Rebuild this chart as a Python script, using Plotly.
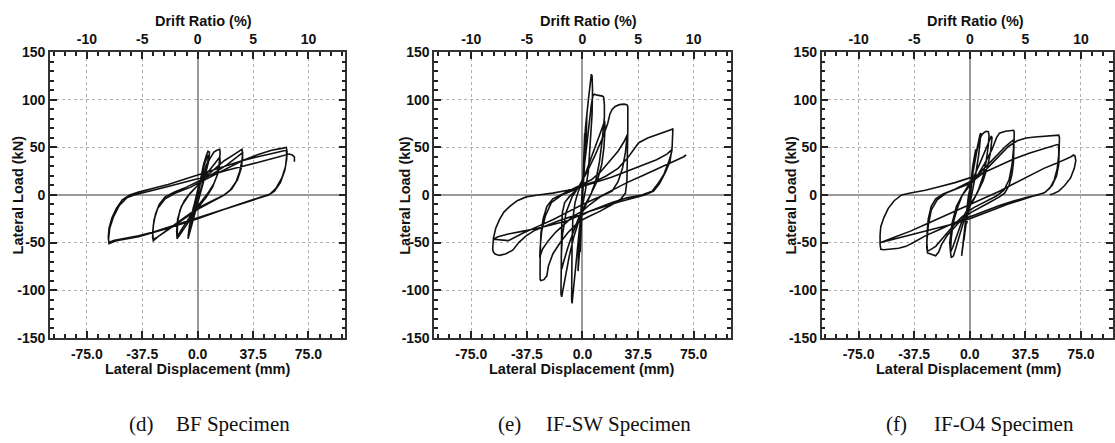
import numpy as np
import plotly.graph_objects as go

# ---------------- data ----------------
MM_PER_PCT_DRIFT = 7.5   # 1 % drift = 7.5 mm lateral displacement

# (d) BF specimen : lateral displacement (mm), lateral load (kN)
bf_disp = [0, 1.5, 3, 2, 0, -1.5, -3, -2, 0,
           2, 4, 6, 7, 8, 7.5, 5, 2, 0, -2, -4, -6, -6.5, -6, -4, -2, 0, 3, 5, 7, 7.5, 5, 2, 0, -3, -6, -6.5, -5.5, -3, 0, 3, 6,
           9, 11, 13, 15, 15.2, 14.5, 13, 10, 6, 2, -2, -6, -10, -13, -14, -14, -13.5, -12, -9, -5, 0, 5, 10, 14, 15, 15.2, 14, 11, 7, 2, -4, -10, -14, -14.2, -13.5, -11, -6, 0, 6,
           12, 18, 24, 28, 30, 30.5, 30, 28.5, 26, 22, 18, 10, 0, -10, -20, -27, -30, -30.5, -30, -28.5, -26, -22, -16, -8, 0, 10, 20, 27, 30, 30.5, 29.5, 27, 23, 18, 8, 0, -10, -20, -28, -30, -30.5, -29.5, -27, -22, -15, -5, 0,
           10, 20, 30, 40, 50, 57, 60, 60.5, 60.3, 59, 56, 52, 48, 40, 30, 20, 10, 0, -10, -20, -30, -40, -50, -57, -60, -60.5, -60, -58, -55, -51, -46, -40, -30, -20, -10, 0, 10, 20, 30, 40, 50, 57, 60,
           60.3, 59.5, 57, 53, 49, 45, 35, 20, 0, -20, -40, -55, -60, -60.3, -59.5, -57, -53, -48, -43, -35, -20, 0, 20, 40, 55, 62, 64, 65.5, 65.5]
bf_load = [0, 12, 22, 12, -2, -14, -25, -14, 2,
           18, 32, 42, 46, 45, 36, 20, 2, -10, -22, -34, -44, -46, -38, -22, -8, 5, 22, 34, 42, 40, 22, 5, -6, -25, -42, -44, -32, -14, 3, 18, 32,
           40, 45, 47, 48, 44, 32, 20, 8, -2, -10, -18, -28, -38, -44, -46, -40, -28, -16, -6, 2, 10, 20, 30, 38, 40, 35, 24, 12, 2, -8, -20, -34, -44, -38, -25, -12, 0, 10, 20,
           28, 36, 42, 46, 48, 44, 36, 25, 14, 5, 0, -6, -14, -25, -36, -44, -48, -44, -32, -20, -10, -2, 3, 8, 14, 22, 32, 40, 44, 40, 28, 16, 6, 0, -8, -15, -26, -37, -45, -47, -40, -26, -14, -4, 2, 8, 12,
           20, 28, 36, 42, 47, 49, 50, 46, 38, 26, 13, 4, 0, -4, -9, -14, -19, -24, -29, -34, -39, -43, -46, -48, -50, -45, -35, -24, -14, -5, 0, 3, 7, 11, 16, 21, 26, 31, 36, 40, 44, 46, 47,
           42, 30, 18, 7, 1, -1, -6, -14, -25, -35, -44, -48, -51, -46, -35, -23, -11, -3, 0, 3, 9, 17, 26, 34, 40, 43, 42, 40, 35]

# (e) IF-SW specimen
sw_disp = [0, 0.5, 1, 1.5, 1, 0, -0.5, -1, -1.5, -1, 0, 1, 2, 3, 2.5, 1, 0, -1, -2, -3, -2.5, -1, 0, 1.5, 3,
           4, 5, 5.5, 6, 6.5, 6.8, 6.5, 5.5, 4, 2, 0, -2, -4, -5.5, -6.5, -7, -7.3, -7.2, -7, -6.5, -5, -3, 0, 2, 4, 6, 7, 8,
           10, 12, 13.5, 14.3, 14.8, 14.8, 13.5, 11.5, 9, 6, 3, 0, -3, -6, -9, -11.5, -13, -14, -14.5, -14.4, -14.2, -14, -13.5, -12, -9, -5, 0, 4, 8, 12, 14.5, 15,
           15.2, 14.5, 13, 10, 6, 2, -2, -6, -10, -13, -14, -14.3, -13.5, -11, -7, -2, 3, 8, 13, 17,
           18.5, 20, 22, 25, 28, 30, 30.6, 30.6, 30.5, 30, 29, 26, 20, 12, 5, 0, -5, -10, -15, -20, -23, -24, -26, -28, -28.5, -28.6, -28.5, -28, -26.5, -24, -20, -12, -5, 0, 6, 12, 18, 24, 28, 30,
           30.5, 30, 29, 27, 24, 20, 12, 5, 0, -6, -12, -18, -23, -27, -28.5, -28.8, -28.5, -27.5, -25, -21, -14, -6, 0,
           8, 16, 24, 30, 34, 38, 44, 50, 55, 59, 60.5, 61, 61, 60.5, 59, 56, 52, 48, 42, 34, 25, 15, 5, 0, -8, -16, -24, -32, -38, -43, -47, -52, -56, -59, -60, -60.5, -60.5, -60, -58.5, -56, -53, -49, -44, -38, -30, -20, -10, 0, 10, 20, 30, 40, 50, 57, 60,
           60.5, 60, 58, 55, 51, 47, 40, 30, 20, 10, 0, -10, -20, -30, -40, -50, -57, -60,
           -50, -40, -30, -20, -10, 0, 10, 20, 30, 40, 50, 58, 64, 68, 70]
sw_load = [0, 25, 50, 65, 40, 5, -20, -45, -60, -35, 0, 40, 70, 85, 60, 25, 0, -30, -60, -80, -55, -15, 10, 50, 85,
           100, 115, 122, 127, 125, 110, 85, 55, 25, 5, -12, -35, -65, -90, -108, -114, -110, -80, -50, -25, -8, 3, 15, 40, 70, 95, 104, 106,
           105, 104.5, 104, 103, 95, 82, 60, 35, 15, 2, -8, -18, -30, -45, -65, -85, -100, -107, -104, -80, -55, -32, -18, -8, -2, 4, 14, 30, 48, 65, 76, 78,
           70, 50, 32, 15, 2, -10, -22, -38, -56, -72, -78, -65, -42, -18, -2, 10, 24, 40, 58, 75,
           85, 90, 93, 95, 95.5, 95, 93, 70, 40, 15, 2, -4, -10, -17, -22, -26, -32, -40, -50, -62, -75, -85, -89, -90, -89, -85, -60, -40, -25, -12, -4, 2, 7, 11, 16, 24, 35, 46, 56, 62, 64,
           60, 45, 28, 14, 4, -2, -10, -17, -22, -30, -39, -48, -57, -64, -66, -55, -38, -22, -8, 0, 5, 10, 14,
           20, 28, 38, 47, 55, 60, 63, 66, 68, 69, 70, 67, 50, 35, 24, 12, 4, 0, -3, -7, -12, -17, -21, -23, -27, -32, -37, -43, -50, -58, -62, -63.5, -62, -60, -58, -55, -45, -35, -26, -18, -12, -6, -2, 0, 2, 5, 9, 14, 19, 25, 31, 37, 43, 46.5, 48,
           44, 34, 22, 12, 4, 0, -3, -8, -14, -20, -27, -31, -35, -38, -41, -44, -46.5, -48,
           -40, -33, -26, -18, -10, -3, 5, 13, 20, 27, 33, 37, 40, 42, 42.5]

# (f) IF-O4 specimen
o4_disp = [0, 1, 2, 1.5, 0, -1, -2, -1.5, 0, 2, 4, 3, 1, -1, -3, -4, -3, -1, 1,
           3, 5, 6, 7, 7.5, 7.2, 6, 4, 2, 0, -2, -3.5, -4.5, -5.2, -5.5, -5, -4, -2.5, -1, 1, 3, 5, 7,
           8.5, 10, 11, 12.5, 13, 12.5, 11, 9, 6, 3, 0, -3, -6, -9, -11, -12.5, -13, -12.5, -11, -8, -5, -1, 3, 7, 11, 13, 14.5,
           15, 14, 12, 9, 5, 1, -4, -8, -11.5, -13, -13.5, -12, -9, -5, 0, 5, 10,
           15, 18, 20, 24, 28, 29.5, 30, 30, 29.5, 28.5, 26.5, 23.5, 20, 12, 5, 0, -5, -10, -15, -19, -21, -23, -25, -27, -28.5, -29, -28.8, -28, -26, -23, -18, -10, -3, 0, 6, 12, 18, 24, 28, 29.5,
           29.5, 28.5, 26.5, 23, 18, 10, 3, 0, -6, -12, -18, -23, -27, -28.5, -29, -28, -26, -22, -16, -8, 0,
           8, 14, 20, 26, 32, 38, 44, 50, 56, 60, 60.5, 60.5, 60, 58.5, 55.5, 51, 46, 40, 30, 20, 10, 0, -10, -20, -30, -38, -43, -48, -54, -58, -60, -60.5, -60.5, -60, -58, -55, -51, -46, -40, -30, -20, -10, 0, 10, 20, 30, 40, 48, 54, 59,
           60, 60, 59, 57, 54, 50, 45, 35, 25, 15, 5, 0, -10, -20, -30, -40, -50, -58, -60,
           -50, -40, -30, -20, -10, 0, 10, 20, 30, 40, 50, 58, 64, 68, 70, 71, 71.5, 70.5, 68, 64, 60, 56, 54]
o4_load = [0, 15, 30, 18, 0, -15, -30, -18, 2, 30, 48, 32, 8, -12, -35, -48, -30, -5, 15,
           35, 50, 58, 64, 65, 58, 42, 22, 6, -8, -22, -38, -52, -62, -64, -55, -38, -18, -2, 14, 32, 48, 60,
           64, 66, 67, 66.5, 63, 52, 35, 20, 6, -4, -12, -22, -38, -55, -64, -66, -60, -45, -28, -12, 0, 10, 20, 34, 50, 58, 62,
           60, 45, 30, 15, 2, -8, -22, -40, -55, -60, -50, -30, -12, 0, 10, 20, 33,
           48, 60, 65, 67, 68, 68, 66, 50, 35, 22, 10, 2, -2, -9, -15, -19, -25, -33, -42, -52, -60, -64, -63, -62, -61, -55, -40, -25, -12, -4, 1, 6, 11, 14, 22, 32, 42, 51, 56, 58,
           48, 32, 16, 5, -1, -7, -13, -16, -24, -34, -45, -54, -58, -59, -50, -32, -16, -5, 2, 7, 12,
           22, 32, 42, 51, 57, 60, 61, 62, 62.5, 63, 60, 45, 32, 20, 10, 3, 0, -2, -6, -11, -17, -23, -29, -36, -43, -50, -54, -56, -57, -57.5, -57, -52, -42, -33, -24, -14, -6, 0, 2, 5, 9, 13, 18, 24, 31, 38, 44, 48, 51, 53,
           52, 42, 28, 16, 7, 2, 0, -5, -10, -16, -22, -25, -30, -34, -38, -42, -46, -49, -50,
           -44, -38, -31, -24, -17, -10, -3, 4, 12, 20, 28, 33, 37, 40, 42, 41, 36, 28, 18, 10, 4, 1, 0.5]

panel_captions = [("(d)", "BF Specimen"), ("(e)", "IF-SW Specimen"), ("(f)", "IF-O4 Specimen")]
disp_ticks = [-75.0, -37.5, 0.0, 37.5, 75.0]
load_ticks = [-150, -100, -50, 0, 50, 100, 150]
drift_ticks = [-10, -5, 0, 5, 10]
series = [(bf_disp, bf_load), (sw_disp, sw_load), (o4_disp, o4_load)]

# ---------------- layout geometry (pixels) ----------------
W, H = 1115, 443
panel_px = [(50, 346), (435, 732), (823, 1115)]
top_px, bot_px = 46, 342
x_ranges = [[-100, 100], [-100, 100], [-100, 96.6]]
caption_px = [(127, 174), (497, 545), (886, 934)]
ytitle_px = [18.5, 405.5, 792]

TICKFONT = dict(family="Liberation Sans, Arial, sans-serif", size=14, color="#111", weight="bold")
TITLEFONT = dict(family="Liberation Sans, Arial, sans-serif", size=14.5, color="#111", weight="bold")
CAPFONT = dict(family="Liberation Serif, Times New Roman, serif", size=21, color="#111")
GRID = dict(showgrid=True, gridcolor="#b0b0b0", griddash="dot", gridwidth=1)
TICKSTYLE = dict(ticks="inside", tickwidth=1.5, tickcolor="#222")

fig = go.Figure()
layout = {}
annotations = []
ydom = [1 - bot_px / H, 1 - top_px / H]

for i, ((dx, ld), (l, r)) in enumerate(zip(series, panel_px)):
    xb = f"x{2*i+1}" if i else "x"
    xt = f"x{2*i+2}"
    yy = f"y{i+1}" if i else "y"
    xb_key = "xaxis" + (str(2*i+1) if i else "")
    xt_key = "xaxis" + str(2*i+2)
    y_key = "yaxis" + (str(i+1) if i else "")
    dom = [l / W, min(r / W, 1.0)]

    fig.add_trace(go.Scatter(x=dx, y=ld, mode="lines", xaxis=xb, yaxis=yy,
                             line=dict(color="#111", width=1.6), showlegend=False,
                             hoverinfo="skip"))
    # empty trace so that the top drift-ratio axis is drawn
    fig.add_trace(go.Scatter(x=drift_ticks, y=[None] * len(drift_ticks), mode="lines",
                             xaxis=xt, yaxis=yy, showlegend=False, hoverinfo="skip"))

    xr = x_ranges[i]
    layout[xb_key] = dict(
        domain=dom, anchor=yy, range=xr,
        tickmode="array", tickvals=disp_ticks, ticktext=[f"{v:.1f}" for v in disp_ticks],
        ticklen=7, **TICKSTYLE,
        minor=dict(tickmode="linear", tick0=0, dtick=MM_PER_PCT_DRIFT, ticklen=4,
                   showgrid=False, **TICKSTYLE),
        zeroline=True, zerolinecolor="#9a9a9a", zerolinewidth=1.5,
        showline=True, linecolor="#333", linewidth=1.5, mirror="ticks",
        tickfont=TICKFONT, ticklabelstandoff=3, **GRID,
    )
    layout[xt_key] = dict(
        overlaying=xb, side="top", anchor=yy,
        range=[xr[0] / MM_PER_PCT_DRIFT, xr[1] / MM_PER_PCT_DRIFT],
        tickmode="array", tickvals=drift_ticks, ticktext=[str(v) for v in drift_ticks],
        ticks="", showgrid=False, zeroline=False, showline=False,
        tickfont=TICKFONT, ticklabelstandoff=5,
    )
    layout[y_key] = dict(
        domain=ydom, anchor=xb, range=[-150, 150],
        tickmode="array", tickvals=load_ticks, ticktext=[str(v) for v in load_ticks],
        ticklen=7, **TICKSTYLE,
        minor=dict(tickmode="linear", tick0=0, dtick=10, ticklen=4,
                   showgrid=False, **TICKSTYLE),
        zeroline=True, zerolinecolor="#9a9a9a", zerolinewidth=1.5,
        showline=True, linecolor="#333", linewidth=1.5, mirror="ticks",
        tickfont=TICKFONT, ticklabelstandoff=0, **GRID,
    )

    cx = (l + 148) if i == 2 else (l + r) / 2
    annotations += [
        dict(text="Drift Ratio (%)", x=(cx + 6) / W, y=1 - 13 / H, xref="paper", yref="paper",
             showarrow=False, font=TITLEFONT, xanchor="center", yanchor="middle"),
        dict(text="Lateral Displacement (mm)", x=cx / W, y=1 - 375 / H, xref="paper", yref="paper",
             showarrow=False, font=TITLEFONT, xanchor="center", yanchor="middle"),
        dict(text="Lateral Load (kN)", x=ytitle_px[i] / W, y=1 - 194 / H, xref="paper", yref="paper",
             showarrow=False, font=TITLEFONT, textangle=-90, xanchor="center", yanchor="middle"),
        dict(text=panel_captions[i][0], x=caption_px[i][0] / W, y=1 - 432 / H, xref="paper", yref="paper",
             showarrow=False, font=CAPFONT, xanchor="left", yanchor="middle"),
        dict(text=panel_captions[i][1], x=caption_px[i][1] / W, y=1 - 432 / H, xref="paper", yref="paper",
             showarrow=False, font=CAPFONT, xanchor="left", yanchor="middle"),
    ]

fig.update_layout(
    width=W, height=H, autosize=False,
    margin=dict(l=0, r=0, t=0, b=0, pad=0),
    paper_bgcolor="white", plot_bgcolor="white",
    annotations=annotations, **layout,
)

fig.write_html("out.html", config={"displayModeBar": False},
               post_script="document.body.style.margin='0';document.body.style.overflow='hidden';")
